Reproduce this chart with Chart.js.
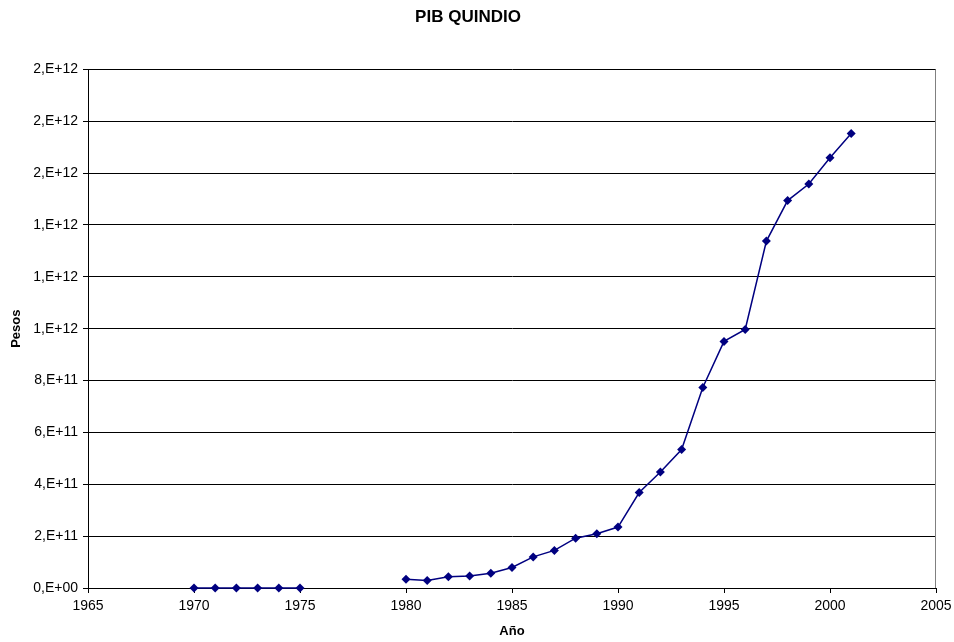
<!DOCTYPE html>
<html>
<head>
<meta charset="utf-8">
<script src="https://cdn.jsdelivr.net/npm/chart.js@4.4.1/dist/chart.umd.min.js"></script>
<style>
  html, body { margin: 0; padding: 0; background: #fff; }
  #wrap { width: 954px; height: 642px; }
</style>
</head>
<body>
<div id="wrap"><canvas id="myChart"></canvas></div>
<script>
var years = [1970, 1971, 1972, 1973, 1974, 1975, 1976, 1977, 1978, 1979,
  1980, 1981, 1982, 1983, 1984, 1985, 1986, 1987, 1988, 1989, 1990,
  1991, 1992, 1993, 1994, 1995, 1996, 1997, 1998, 1999, 2000, 2001];
var pib = [0, 0, 0, 0, 0, 0, null, null, null, null,
  3.4e10, 2.9e10, 4.3e10, 4.6e10, 5.7e10, 7.9e10, 1.20e11, 1.45e11, 1.92e11, 2.09e11, 2.35e11,
  3.68e11, 4.47e11, 5.34e11, 7.73e11, 9.51e11, 9.97e11, 1.338e12, 1.494e12, 1.558e12, 1.659e12, 1.753e12];
var xTicks = [1965, 1970, 1975, 1980, 1985, 1990, 1995, 2000, 2005];
var yMax = 2e12;
var yStep = 2e11;

// excel style "0,E+00"
function sciLabel(v) {
  if (Math.abs(v) < 1) return '0,E+00';
  var e = Math.floor(Math.log10(v) + 1e-9);
  var m = Math.round(v / Math.pow(10, e));
  if (m >= 10) { m = 1; e++; }
  return m + ',E' + (e < 0 ? '-' : '+') + (Math.abs(e) < 10 ? '0' : '') + Math.abs(e);
}

var points = years.map(function (y, i) {
  return { x: y, y: pib[i] };
});

var rightBorder = {
  id: 'rightBorder',
  beforeDatasetsDraw: function (chart) {
    var a = chart.chartArea, c = chart.ctx;
    c.save();
    c.strokeStyle = '#808080';
    c.lineWidth = 1;
    c.beginPath();
    c.moveTo(Math.round(a.right) - 0.5, a.top);
    c.lineTo(Math.round(a.right) - 0.5, a.bottom);
    c.stroke();
    c.restore();
  }
};

Chart.defaults.font.family = '"Liberation Sans", Arial, sans-serif';
Chart.defaults.color = '#000';

new Chart(document.getElementById('myChart').getContext('2d'), {
  type: 'line',
  data: {
    datasets: [{
      label: 'PIB',
      data: points,
      borderColor: '#000080',
      backgroundColor: '#000080',
      borderWidth: 1.5,
      pointStyle: 'rectRot',
      pointRadius: 4.5,
      pointHoverRadius: 4.5,
      pointBorderWidth: 0,
      tension: 0,
      spanGaps: false,
      clip: false
    }]
  },
  options: {
    responsive: true,
    maintainAspectRatio: false,
    animation: false,
    layout: { padding: { left: 0, right: 18, top: 0, bottom: 0 } },
    plugins: {
      legend: { display: false },
      tooltip: { enabled: false },
      title: {
        display: true,
        text: 'PIB QUINDIO',
        font: { size: 17, weight: 'bold' },
        color: '#000',
        padding: { top: 7, bottom: 42 }
      }
    },
    scales: {
      x: {
        type: 'linear',
        min: 1965,
        max: 2005,
        afterBuildTicks: function (scale) {
          scale.ticks = xTicks.map(function (v) { return { value: v }; });
        },
        afterFit: function (scale) {
          scale.height = 54;
          scale.paddingLeft = 0;
          scale.paddingRight = 0;
        },
        grid: { drawOnChartArea: false, color: '#000', tickLength: 5, tickColor: '#000' },
        border: { color: '#000', width: 1 },
        ticks: {
          font: { size: 14 },
          color: '#000',
          padding: 5,
          maxRotation: 0,
          callback: function (v) { return String(v); }
        },
        title: {
          display: true,
          text: 'Año',
          font: { size: 13, weight: 'bold' },
          color: '#000',
          padding: { top: 0, bottom: 3 }
        }
      },
      y: {
        min: 0,
        max: yMax,
        afterFit: function (scale) { scale.width = 88; },
        grid: { color: '#000', lineWidth: 1, tickLength: 5, tickColor: '#000' },
        border: { color: '#000', width: 1 },
        ticks: {
          stepSize: yStep,
          font: { size: 14 },
          color: '#000',
          padding: 5,
          callback: function (v) { return sciLabel(v); }
        },
        title: {
          display: true,
          text: 'Pesos',
          font: { size: 13, weight: 'bold' },
          color: '#000',
          padding: { top: 9, bottom: 0 }
        }
      }
    }
  },
  plugins: [rightBorder]
});
</script>
</body>
</html>
